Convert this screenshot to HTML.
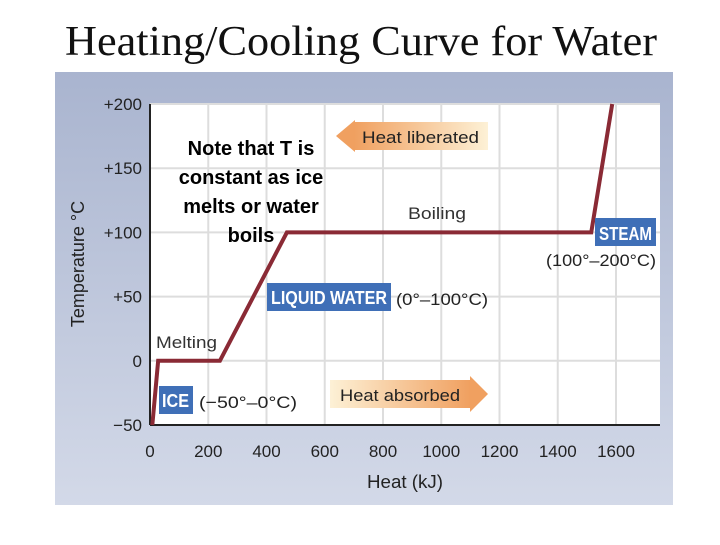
<!DOCTYPE html>
<html><head><meta charset="utf-8"><style>
body{margin:0;width:720px;height:540px;background:#fff;overflow:hidden;font-family:"Liberation Sans",sans-serif}
</style></head><body>
<svg width="720" height="540">
<defs>
<linearGradient id="bg" x1="0" y1="0" x2="0" y2="1"><stop offset="0" stop-color="#a9b4cf"/><stop offset="1" stop-color="#d3d9e8"/></linearGradient>
<linearGradient id="ha" x1="0" y1="0" x2="1" y2="0"><stop offset="0" stop-color="#fdf1d6"/><stop offset="1" stop-color="#f0a060"/></linearGradient>
<linearGradient id="hl" x1="0" y1="0" x2="1" y2="0"><stop offset="0" stop-color="#f0a060"/><stop offset="1" stop-color="#fdf1d6"/></linearGradient>
</defs>
<text x="65" y="55" textLength="592" lengthAdjust="spacingAndGlyphs" font-family="Liberation Serif" font-size="42" fill="#111">Heating/Cooling Curve for Water</text>
<rect x="55" y="72" width="618" height="433" fill="url(#bg)"/>
<rect x="150" y="104" width="510" height="321" fill="#fff"/>
<g id="grid"></g>
<g id="ticks" font-size="17" fill="#222"></g>
<line x1="150" y1="104" x2="150" y2="425" stroke="#222" stroke-width="2"/>
<line x1="150" y1="425" x2="660" y2="425" stroke="#222" stroke-width="2"/>
<polyline id="curve" fill="none" stroke="#8a2a35" stroke-width="4"/>
<text x="367" y="488" textLength="76" lengthAdjust="spacingAndGlyphs" font-size="18" fill="#222">Heat (kJ)</text>
<text transform="translate(84,264) rotate(-90)" text-anchor="middle" font-size="18" fill="#222">Temperature °C</text>
<polygon points="355,120 336,136 355,152" fill="#f0a060"/>
<rect x="354" y="122" width="134" height="28" fill="url(#hl)"/>
<text x="362" y="143" textLength="117" lengthAdjust="spacingAndGlyphs" font-size="17" fill="#222">Heat liberated</text>
<rect x="330" y="380" width="140" height="28" fill="url(#ha)"/>
<polygon points="470,376 488,394 470,412" fill="#f0a060"/>
<text x="340" y="401" textLength="120" lengthAdjust="spacingAndGlyphs" font-size="17" fill="#222">Heat absorbed</text>
<text x="408" y="219" textLength="58" lengthAdjust="spacingAndGlyphs" font-size="17" fill="#333">Boiling</text>
<text x="156" y="348" textLength="61" lengthAdjust="spacingAndGlyphs" font-size="17" fill="#333">Melting</text>
<rect x="595" y="218" width="61" height="28" fill="#3f6fb7"/>
<text x="599" y="240" textLength="53" lengthAdjust="spacingAndGlyphs" font-size="18" font-weight="bold" fill="#fff">STEAM</text>
<text x="546" y="266" textLength="110" lengthAdjust="spacingAndGlyphs" font-size="17" fill="#222">(100°–200°C)</text>
<rect x="267" y="283" width="124" height="28" fill="#3f6fb7"/>
<text x="271" y="304" textLength="116" lengthAdjust="spacingAndGlyphs" font-size="18" font-weight="bold" fill="#fff">LIQUID WATER</text>
<text x="396" y="305" textLength="92" lengthAdjust="spacingAndGlyphs" font-size="17" fill="#222">(0°–100°C)</text>
<rect x="159" y="386" width="34" height="28" fill="#3f6fb7"/>
<text x="162" y="407" textLength="27" lengthAdjust="spacingAndGlyphs" font-size="18" font-weight="bold" fill="#fff">ICE</text>
<text x="199" y="408" textLength="98" lengthAdjust="spacingAndGlyphs" font-size="17" fill="#222">(−50°–0°C)</text>
<g font-size="20" font-weight="bold" fill="#000" text-anchor="middle">
<text x="251" y="155">Note that T is</text>
<text x="251" y="184">constant as ice</text>
<text x="251" y="213">melts or water</text>
<text x="251" y="242">boils</text>
</g>
</svg>
<script>
const xTicks=[0,200,400,600,800,1000,1200,1400,1600];
const yTicks=[-50,0,50,100,150,200];
const yTickLabels=["−50","0","+50","+100","+150","+200"];
const heat=[8,28,240,470,1515,1587];
const temp=[-50,0,0,100,100,200];
const X=v=>150+v*(466/1600);
const Y=v=>425-(v+50)*(321/250);
const ns="http://www.w3.org/2000/svg";
const g=document.getElementById('grid'),t=document.getElementById('ticks');
xTicks.forEach(v=>{
 const l=document.createElementNS(ns,'line');
 
 
 l.setAttribute('x1',X(v));l.setAttribute('x2',X(v));l.setAttribute('y1',104);l.setAttribute('y2',425);
 l.setAttribute('stroke','#ddd');l.setAttribute('stroke-width','2');g.appendChild(l);
 const s=document.createElementNS(ns,'text');
 
 
 s.setAttribute('x',X(v));s.setAttribute('y',457);s.setAttribute('text-anchor','middle');s.textContent=v;t.appendChild(s);
});
yTicks.forEach((v,i)=>{
 const l=document.createElementNS(ns,'line');
 
 
 l.setAttribute('x1',150);l.setAttribute('x2',660);l.setAttribute('y1',Y(v));l.setAttribute('y2',Y(v));
 l.setAttribute('stroke','#ddd');l.setAttribute('stroke-width','2');g.appendChild(l);
 const s=document.createElementNS(ns,'text');
 
 
 s.setAttribute('x',142);s.setAttribute('y',Y(v)+6);s.setAttribute('text-anchor','end');s.textContent=yTickLabels[i];t.appendChild(s);
});
document.getElementById('curve').setAttribute('points',heat.map((h,i)=>X(h)+','+Y(temp[i])).join(' '));
</script>
</body></html>
